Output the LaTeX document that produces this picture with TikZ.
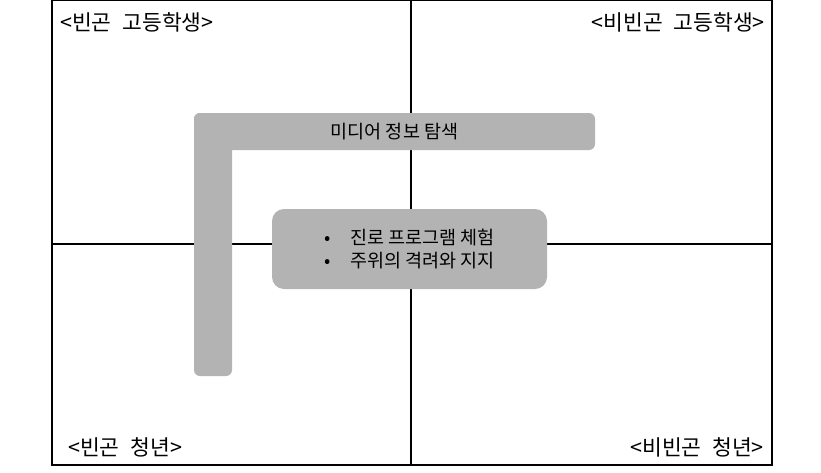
\documentclass[tikz,border=0pt]{standalone}
\usepackage{fontspec}
\setmainfont{Noto Sans CJK KR}
\usetikzlibrary{positioning}
\definecolor{griston}{HTML}{B3B3B3}
\newcommand\espmot{\hspace{0.5em}}

\tikzset{
  axe/.style={line width=1.4pt,black},
  bande/.style={fill=griston,rounded corners=6pt,inner sep=0pt,font=\fontsize{18.5}{23}\selectfont},
  etiquette/.style={inner sep=0pt,font=\fontsize{21.5}{24}\selectfont}
}

\begin{document}
\begin{tikzpicture}[x=1pt,y=-1pt]
  \useasboundingbox (0,0) rectangle (821,472);
  % cadre et axes
  \draw[axe] (52,0.7) rectangle (772,465);
  \coordinate (haut) at (411,0.7);
  \coordinate (bas) at (411,465);
  \coordinate (gauche) at (52,244);
  \coordinate (droite) at (772,244);
  \draw[axe] (haut) -- (bas);
  \draw[axe] (gauche) -- (droite);
  % quadrants
  \foreach \nom/\pos/\anc/\txt in {hg/{(60,22)}/west/{<빈곤\espmot 고등학생>},
      hd/{(765,22)}/east/{<비빈곤\espmot 고등학생>},
      bg/{(68,447)}/west/{<빈곤\espmot 청년>},
      bd/{(764,447)}/east/{<비빈곤\espmot 청년>}}{
    \node[etiquette,anchor=\anc] (\nom) at \pos {\txt};
  }
  % bandes grises
  \fill[griston,rounded corners=6pt] (194,376) rectangle (232,113);
  \node[bande,minimum width=401pt,minimum height=37pt] (media) at (394.5,131.5) {미디어 정보 탐색};
  \node[bande,rounded corners=12pt,minimum width=275pt,minimum height=80pt,align=left] (centre) at (409.5,249)
    {•\hspace{20pt}진로 프로그램 체험\\ •\hspace{20pt}주위의 격려와 지지};
\end{tikzpicture}
\end{document}
